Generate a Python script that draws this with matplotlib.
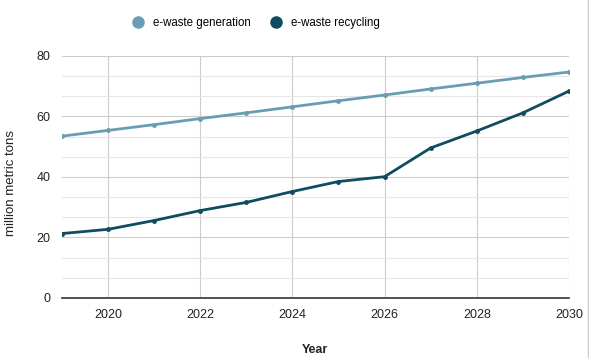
import matplotlib
matplotlib.use("Agg")
import matplotlib.pyplot as plt
from matplotlib.lines import Line2D
import numpy as np

plt.rcParams['font.family'] = ['Liberation Sans', 'DejaVu Sans']

years = [2019, 2020, 2021, 2022, 2023, 2024, 2025, 2026, 2027, 2028, 2029, 2030]
generation = [53.5, 55.4, 57.3, 59.3, 61.2, 63.2, 65.2, 67.1, 69.1, 71.0, 72.9, 74.7]
recycling = [21.3, 22.7, 25.6, 28.9, 31.6, 35.2, 38.5, 40.1, 49.6, 55.2, 61.2, 68.4]
x_ticks = [2020, 2022, 2024, 2026, 2028, 2030]
y_ticks = [0, 20, 40, 60, 80]

c_gen = '#6a9db3'
c_rec = '#0f4c5f'

fig = plt.figure(figsize=(5.89, 3.58), dpi=100)
ax = fig.add_axes([0.105, 0.1676, 0.861, 0.676])

ax.plot(years, generation, color=c_gen, lw=2, marker='o', ms=2.5, zorder=3)
ax.plot(years, recycling, color=c_rec, lw=2, marker='o', ms=2.5, zorder=3)

ax.set_xlim(2019, 2030)
ax.set_ylim(0, 80)
ax.set_xticks(x_ticks)
ax.set_yticks(y_ticks)
ax.set_yticks(np.arange(0, 80, 20 / 3), minor=True)
ax.tick_params(axis='both', length=0, labelsize=9, colors='#222222', pad=8)
ax.tick_params(axis='y', which='minor', length=0)
ax.grid(True, which='major', color='#cccccc', lw=0.8)
ax.grid(True, which='minor', axis='y', color='#e6e6e6', lw=0.8)
ax.set_axisbelow(True)
for s in ['top', 'right', 'left']:
    ax.spines[s].set_visible(False)
ax.spines['bottom'].set_color('#333333')
ax.spines['bottom'].set_linewidth(1.2)

fig.text(0.018, 0.489, 'million metric tons', rotation=90, ha='center', va='center',
         fontsize=9.5, color='#222222')
ax.set_xlabel('Year', fontsize=9, fontweight='bold', color='#222222')
ax.xaxis.set_label_coords(0.5, -0.215)
ax.xaxis.label.set_verticalalignment('center')

handles = [Line2D([], [], ls='', marker='o', ms=8, color=c_gen),
           Line2D([], [], ls='', marker='o', ms=8, color=c_rec)]
fig.legend(handles, ['e-waste generation', 'e-waste recycling'], loc='center',
           bbox_to_anchor=(0.43, 0.936), ncol=2, frameon=False, fontsize=8.3,
           handletextpad=0.3, columnspacing=1.2)

fig.add_artist(Line2D([0.998, 0.998], [0, 1], color='#cccccc', lw=1))

fig.savefig('out.png', dpi=100)
